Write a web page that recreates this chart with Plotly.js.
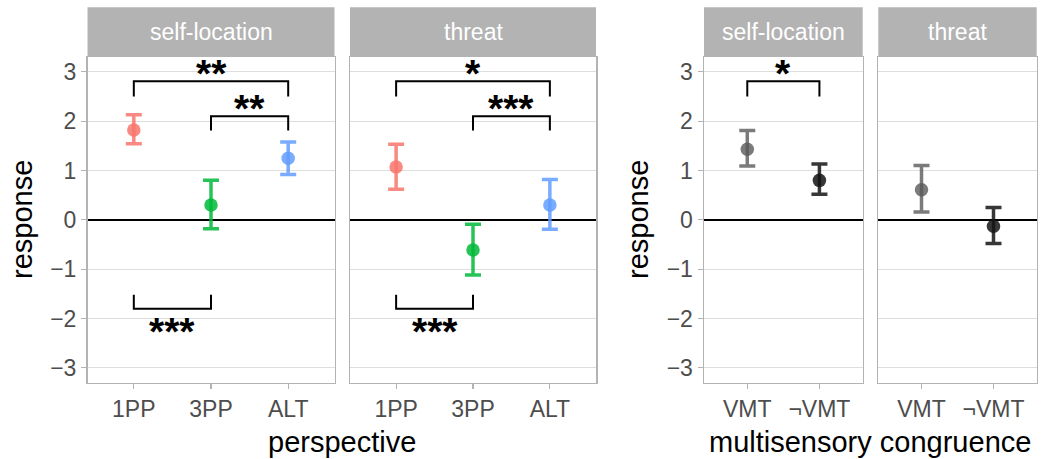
<!DOCTYPE html>
<html>
<head>
<meta charset="utf-8">
<script src="https://cdn.plot.ly/plotly-3.0.1.min.js"></script>
<style>html,body{margin:0;padding:0;background:#fff;}#chart{width:1050px;height:459px;}</style>
</head>
<body>
<div id="chart"></div>
<script>
// ---- data ----
const perspCats = ['1PP', '3PP', 'ALT'];
const congCats = ['VMT', '¬VMT'];
const panelTitles = ['self-location', 'threat', 'self-location', 'threat'];

const perspSelfMean  = [1.82, 0.30, 1.25];
const perspSelfHigh  = [2.13, 0.80, 1.58];
const perspSelfLow   = [1.54, -0.18, 0.92];

const perspThreatMean = [1.07, -0.61, 0.30];
const perspThreatHigh = [1.53, -0.09, 0.82];
const perspThreatLow  = [0.62, -1.12, -0.19];

const congSelfMean = [1.43, 0.80];
const congSelfHigh = [1.81, 1.13];
const congSelfLow  = [1.09, 0.52];

const congThreatMean = [0.61, -0.13];
const congThreatHigh = [1.10, 0.25];
const congThreatLow  = [0.16, -0.48];

// significance brackets
const sigPanel = [0, 0, 0, 1, 1, 1, 2];
const sigFrom  = ['1PP', '3PP', '1PP', '1PP', '3PP', '1PP', 'VMT'];
const sigTo    = ['ALT', 'ALT', '3PP', 'ALT', 'ALT', '3PP', '¬VMT'];
const sigLevel = [2.81, 2.10, -1.80, 2.81, 2.10, -1.80, 2.81];
const sigTip   = [2.50, 1.81, -1.52, 2.50, 1.81, -1.52, 2.50];
const sigLabel = ['**', '**', '***', '*', '***', '***', '*'];

// ---- styling ----
const perspColors = ['rgba(248,118,109,0.85)', 'rgba(0,186,56,0.85)', 'rgba(97,156,255,0.85)'];
const congColors = ['rgba(90,90,90,0.8)', 'rgba(20,20,20,0.85)'];

const W = 1050, H = 459;
const panelX = [[87.5, 334.5], [350, 596], [704, 862.7], [878.3, 1036.7]];
const plotTop = 57, plotBottom = 382.7, stripTop = 7.3;
const yDom = [(H - plotBottom) / H, (H - plotTop) / H];

const panels = [
  {cats: perspCats, mean: perspSelfMean, hi: perspSelfHigh, lo: perspSelfLow, colors: perspColors},
  {cats: perspCats, mean: perspThreatMean, hi: perspThreatHigh, lo: perspThreatLow, colors: perspColors},
  {cats: congCats, mean: congSelfMean, hi: congSelfHigh, lo: congSelfLow, colors: congColors},
  {cats: congCats, mean: congThreatMean, hi: congThreatHigh, lo: congThreatLow, colors: congColors}
];

const FONT = 'Liberation Sans, Arial, sans-serif';
const traces = [];
const layout = {
  width: W, height: H,
  margin: {l: 0, r: 0, t: 0, b: 0},
  paper_bgcolor: '#fff', plot_bgcolor: '#fff',
  showlegend: false,
  font: {family: FONT},
  shapes: [], annotations: []
};

panels.forEach((p, i) => {
  const sfx = i === 0 ? '' : String(i + 1);
  const xa = 'x' + sfx, ya = 'y' + sfx;
  p.cats.forEach((c, j) => {
    traces.push({
      type: 'scatter', mode: 'markers',
      x: [c], y: [p.mean[j]],
      xaxis: xa, yaxis: ya,
      marker: {color: p.colors[j], size: 13.5},
      error_y: {type: 'data', symmetric: false,
        array: [p.hi[j] - p.mean[j]], arrayminus: [p.mean[j] - p.lo[j]],
        color: p.colors[j], thickness: 3.5, width: 8},
      hoverinfo: 'skip'
    });
  });
  const n = p.cats.length;
  layout['xaxis' + sfx] = {
    domain: [panelX[i][0] / W, panelX[i][1] / W], anchor: ya,
    type: 'category', categoryarray: p.cats, range: [-0.6, n - 1 + 0.6],
    showgrid: false, zeroline: false,
    showline: true, mirror: true, linecolor: '#B3B3B3', linewidth: 1.5,
    ticks: 'outside', ticklen: 5, tickwidth: 1.2, tickcolor: '#B3B3B3',
    tickfont: {size: 23, color: '#4D4D4D', family: FONT},
    fixedrange: true
  };
  layout['yaxis' + sfx] = {
    domain: yDom, anchor: xa,
    range: [-3.3, 3.3], tickvals: [-3, -2, -1, 0, 1, 2, 3],
    showgrid: true, gridcolor: '#DEDEDE', gridwidth: 1,
    zeroline: true, zerolinecolor: '#000', zerolinewidth: 2.2,
    showline: true, mirror: true, linecolor: '#B3B3B3', linewidth: 1.5,
    showticklabels: (i === 0 || i === 2),
    ticks: (i === 0 || i === 2) ? 'outside' : '', ticklen: 5, tickwidth: 1.2, tickcolor: '#B3B3B3',
    tickfont: {size: 23, color: '#4D4D4D', family: FONT},
    fixedrange: true
  };
  // strip
  layout.shapes.push({type: 'rect', xref: xa + ' domain', yref: 'paper',
    x0: 0, x1: 1, y0: yDom[1], y1: (H - stripTop) / H,
    fillcolor: '#B3B3B3', line: {width: 0}, layer: 'above'});
  layout.annotations.push({xref: xa + ' domain', yref: 'paper', x: 0.5,
    y: (H - (stripTop + plotTop) / 2) / H, yanchor: 'middle', xanchor: 'center',
    text: panelTitles[i], showarrow: false,
    font: {size: 23, color: '#fff', family: FONT}});
});

// significance brackets
sigPanel.forEach((pi, k) => {
  const sfx = pi === 0 ? '' : String(pi + 1);
  traces.push({
    type: 'scatter', mode: 'lines',
    x: [sigFrom[k], sigFrom[k], sigTo[k], sigTo[k]],
    y: [sigTip[k], sigLevel[k], sigLevel[k], sigTip[k]],
    xaxis: 'x' + sfx, yaxis: 'y' + sfx,
    line: {color: '#000', width: 2}, hoverinfo: 'skip'
  });
  const cats = panels[pi].cats;
  const xm = (cats.indexOf(sigFrom[k]) + cats.indexOf(sigTo[k])) / 2;
  const above = sigLevel[k] > sigTip[k];
  layout.annotations.push({
    xref: 'x' + sfx, yref: 'y' + sfx, x: xm,
    y: sigLevel[k],
    yshift: above ? -16 : 1,
    yanchor: above ? 'bottom' : 'top', xanchor: 'center',
    text: '<b>' + sigLabel[k] + '</b>', showarrow: false,
    font: {size: 39, color: '#000', family: FONT}
  });
});

// axis titles
layout.annotations.push({xref: 'paper', yref: 'paper', x: (87.5 + 596) / 2 / W, y: (H - 442) / H,
  yanchor: 'middle', xanchor: 'center', text: 'perspective', showarrow: false,
  font: {size: 29, color: '#000', family: FONT}});
layout.annotations.push({xref: 'paper', yref: 'paper', x: (704 + 1036.7) / 2 / W, y: (H - 442) / H,
  yanchor: 'middle', xanchor: 'center', text: 'multisensory congruence', showarrow: false,
  font: {size: 29, color: '#000', family: FONT}});
[22, 638].forEach(px => {
  layout.annotations.push({xref: 'paper', yref: 'paper', x: px / W, y: (H - 220) / H,
    yanchor: 'middle', xanchor: 'center', text: 'response', textangle: -90, showarrow: false,
    font: {size: 29, color: '#000', family: FONT}});
});

Plotly.newPlot('chart', traces, layout, {displayModeBar: false, staticPlot: true});
</script>
</body>
</html>
